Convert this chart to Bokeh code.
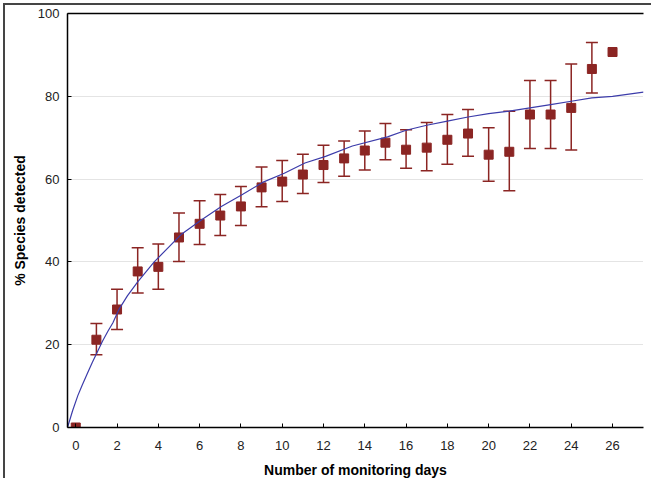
from bokeh.plotting import figure
from bokeh.models import Whisker, ColumnDataSource, TeeHead, LinearAxis, Range1d, FixedTicker
from bokeh.embed import file_html
from bokeh.resources import INLINE

# ---- data ----
days = list(range(27))
mean_pct = [0, 21.2, 28.5, 37.7, 38.8, 45.9, 49.2, 51.2, 53.4, 58.0, 59.4, 61.1, 63.4,
            65.0, 66.9, 68.8, 67.1, 67.6, 69.5, 71.0, 65.9, 66.6, 75.6, 75.6, 77.2, 86.6, 90.7]

err_days = list(range(1, 26))
err_upper = [25.1, 33.4, 43.4, 44.3, 51.8, 54.8, 56.3, 58.2, 62.9, 64.5, 66.0, 68.2, 69.2,
             71.6, 73.4, 71.9, 73.7, 75.6, 76.8, 72.4, 76.4, 83.8, 83.8, 87.8, 93.0]
err_lower = [17.6, 23.7, 32.5, 33.4, 40.1, 44.2, 46.4, 48.8, 53.3, 54.6, 56.5, 59.2, 60.7,
             62.2, 64.7, 62.6, 62.0, 63.6, 65.5, 59.5, 57.2, 67.4, 67.4, 67.0, 80.8]

curve_x = [-0.4, -0.15, 0.1, 0.3, 0.55, 0.8, 1.05, 1.3, 1.55, 1.8, 2.1, 2.5, 3.0, 3.8,
           5.1, 6.1, 7.05, 8.05, 9.05, 10.1, 11.1, 12.1, 13.4, 15.1, 16, 17, 18, 19, 20,
           21, 22, 23, 24, 25, 26, 27.5]
curve_y = [0, 4.1, 7.7, 10.1, 12.9, 15.7, 18.3, 20.9, 23.2, 25.3, 28.6, 31.8, 35.2, 40.0,
           46.6, 50.2, 53.4, 56.2, 59.2, 61.4, 63.9, 65.5, 68.0, 70.2, 71.8, 73.0, 74.0,
           75.0, 75.8, 76.4, 77.2, 78.0, 78.8, 79.6, 80.0, 81.0]

x_ticks = list(range(0, 27, 2))
y_ticks = [0, 20, 40, 60, 80, 100]

RED = "#8b2523"
BLUE = "#3c3caa"
FONT = "Liberation Sans"

p = figure(width=648, height=475, output_backend="svg", toolbar_location=None,
           x_range=Range1d(-0.4, 27.5), y_range=Range1d(0, 100),
           min_border_left=62, min_border_top=8, min_border_right=10, min_border_bottom=51)
p.styles = {"margin-left": "3px", "margin-top": "3px",
            "border-left": "2px solid #454545", "border-top": "2px solid #454545"}
p.outline_line_color = None
p.background_fill_color = "white"
p.border_fill_color = "white"

# grids
p.xgrid.grid_line_color = None
p.ygrid.ticker = FixedTicker(ticks=[20, 40, 60, 80])
p.ygrid.grid_line_color = "#c8c8c8"
p.ygrid.grid_line_dash = "1 1"
p.ygrid.grid_line_width = 1

# axes
for ax in (p.xaxis[0], p.yaxis[0]):
    ax.axis_line_color = "black"
    ax.axis_line_width = 1.5
    ax.major_tick_in = 4
    ax.major_tick_out = 0
    ax.major_tick_line_color = "black"
    ax.minor_tick_line_color = None
    ax.major_label_text_font = FONT
    ax.major_label_text_font_size = "13px"
    ax.major_label_text_color = "#222222"
    ax.axis_label_text_font = FONT
    ax.axis_label_text_font_size = "14px"
    ax.axis_label_text_font_style = "bold"
    ax.axis_label_text_color = "black"

p.xaxis.ticker = x_ticks
p.yaxis.ticker = y_ticks
p.xaxis.axis_label = "Number of monitoring days"
p.yaxis.axis_label = "% Species detected"
p.xaxis.major_label_standoff = 13
p.yaxis.major_label_standoff = 8
p.xaxis.axis_label_standoff = 9
p.yaxis.axis_label_standoff = 7

top = LinearAxis(ticker=FixedTicker(ticks=[]), axis_line_color="black", axis_line_width=1.5,
                 major_tick_line_color=None, minor_tick_line_color=None,
                 major_label_text_font_size="0px")
p.add_layout(top, "above")

# error bars
src = ColumnDataSource(dict(x=err_days, upper=err_upper, lower=err_lower))
w = Whisker(source=src, base="x", upper="upper", lower="lower",
            line_color=RED, line_width=1.5,
            upper_head=TeeHead(size=12, line_color=RED, line_width=1.5),
            lower_head=TeeHead(size=12, line_color=RED, line_width=1.5))
p.add_layout(w)

# mean points
p.scatter(days, mean_pct, marker="square", size=9, color=RED)

# fitted curve
p.line(curve_x, curve_y, line_color=BLUE, line_width=1.2)

open("out.html", "w").write(file_html(p, INLINE))
